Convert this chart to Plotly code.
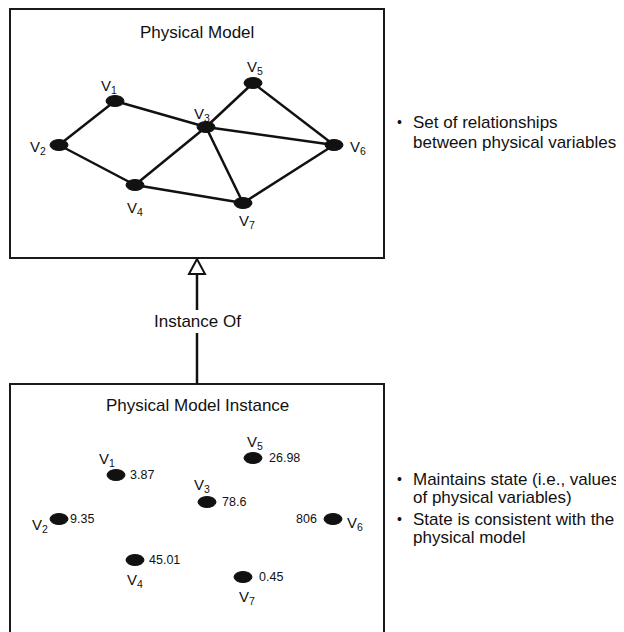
import plotly.graph_objects as go

# ---- data ----
nodes = ["V1", "V2", "V3", "V4", "V5", "V6", "V7"]
model_x = [115, 59, 206, 135, 253, 334, 243]
model_y = [101, 145, 127, 185, 83, 145, 203]
inst_x = [116, 59, 207, 135, 253, 333, 243]
inst_y = [475, 519, 502, 560, 458, 519, 577]
inst_values = ["3.87", "9.35", "78.6", "45.01", "26.98", "806", "0.45"]
edges = [("V1", "V2"), ("V1", "V3"), ("V2", "V4"), ("V3", "V4"), ("V3", "V5"),
         ("V3", "V6"), ("V3", "V7"), ("V4", "V7"), ("V5", "V6"), ("V6", "V7")]
model_title = "Physical Model"
inst_title = "Physical Model Instance"
relation_label = "Instance Of"
model_bullets = [["Set of relationships", "between physical variables"]]
inst_bullets = [["Maintains state (i.e., values", "of physical variables)"],
                ["State is consistent with the", "physical model"]]

# ---- layout / style (positions separate from data) ----
FONT = "Liberation Sans, Arial, Helvetica, sans-serif"
W, H = 624, 632
PAGE_OFF = 8  # default body margin of the page
top_box = (10, 9, 384, 258)
bot_box = (10, 384, 384, 660)
arrow_x = 197
EW, EH = 18, 11  # ellipse size

model_lbl_off = {"V1": (-6, -15), "V2": (-21, 2), "V3": (-4, -13), "V4": (0, 23),
                 "V5": (2, -16), "V6": (24, 2), "V7": (4, 18)}
inst_lbl_off = {"V1": (-9, -16), "V2": (-19, 6), "V3": (-5, -17), "V4": (0, 20),
                "V5": (2, -16), "V6": (22, 4), "V7": (4, 20)}
val_off = {"V1": (12, "left"), "V2": (9, "left"), "V3": (13, "left"), "V4": (12, "left"),
           "V5": (14, "left"), "V6": (-14, "right"), "V7": (14, "left")}

fig = go.Figure()
shapes = []
annotations = []

# boxes
for (x0, y0, x1, y1) in (top_box, bot_box):
    shapes.append(dict(type="rect", xref="x", yref="y", x0=x0, y0=y0, x1=x1, y1=y1,
                       line=dict(color="#1a1a1a", width=2), fillcolor="rgba(0,0,0,0)"))

# edges of the physical model
idx = {n: i for i, n in enumerate(nodes)}
ex, ey = [], []
for a, b in edges:
    ex += [model_x[idx[a]], model_x[idx[b]], None]
    ey += [model_y[idx[a]], model_y[idx[b]], None]
fig.add_trace(go.Scatter(x=ex, y=ey, mode="lines", line=dict(color="#111111", width=2.5),
                         hoverinfo="skip", showlegend=False))

# nodes (ellipses)
for xs, ys in ((model_x, model_y), (inst_x, inst_y)):
    for x, y in zip(xs, ys):
        shapes.append(dict(type="circle", xref="x", yref="y", x0=x - EW / 2, x1=x + EW / 2,
                           y0=y - EH / 2, y1=y + EH / 2, fillcolor="#111111",
                           line=dict(color="#111111", width=1)))

def label(n):
    return "V<sub>%s</sub>" % n[1:]

for i, n in enumerate(nodes):
    dx, dy = model_lbl_off[n]
    annotations.append(dict(x=model_x[i] + dx, y=model_y[i] + dy, text=label(n), showarrow=False,
                            font=dict(size=15, color="#111111", family=FONT)))
    dx, dy = inst_lbl_off[n]
    annotations.append(dict(x=inst_x[i] + dx, y=inst_y[i] + dy, text=label(n), showarrow=False,
                            font=dict(size=15, color="#111111", family=FONT)))
    vdx, anchor = val_off[n]
    annotations.append(dict(x=inst_x[i] + vdx, y=inst_y[i], text=inst_values[i], showarrow=False,
                            xanchor=anchor, font=dict(size=12.5, color="#111111", family=FONT)))

# titles
annotations.append(dict(x=197, y=32, text=model_title, showarrow=False,
                        font=dict(size=17, color="#111111", family=FONT)))
annotations.append(dict(x=197, y=405, text=inst_title, showarrow=False,
                        font=dict(size=17, color="#111111", family=FONT)))

# instance-of relation: line + hollow triangle
shapes.append(dict(type="line", xref="x", yref="y", x0=arrow_x, x1=arrow_x, y0=274, y1=310,
                   line=dict(color="#111111", width=2.5)))
shapes.append(dict(type="line", xref="x", yref="y", x0=arrow_x, x1=arrow_x, y0=333, y1=384,
                   line=dict(color="#111111", width=2.5)))
shapes.append(dict(type="path", xref="x", yref="y",
                   path="M %d 259 L %d 274 L %d 274 Z" % (arrow_x, arrow_x - 8, arrow_x + 8),
                   fillcolor="white", line=dict(color="#111111", width=2)))
annotations.append(dict(x=arrow_x, y=321, text=relation_label, showarrow=False,
                        font=dict(size=17, color="#111111", family=FONT)))

# bullets
def add_bullets(groups, y_start, step, gap):
    y = y_start
    for g in groups:
        annotations.append(dict(x=399, y=y, text="•", showarrow=False, xanchor="center",
                                font=dict(size=14, color="#111111", family=FONT)))
        for line in g:
            annotations.append(dict(x=411, y=y, text=line, showarrow=False, xanchor="left",
                                    font=dict(size=17, color="#111111", family=FONT)))
            y += step
        y += gap

add_bullets(model_bullets, 122, 20, 0)
add_bullets(inst_bullets, 479, 18.5, 3)

fig.update_layout(
    width=W, height=H, margin=dict(l=0, r=0, t=0, b=0),
    paper_bgcolor="white", plot_bgcolor="white",
    xaxis=dict(range=[PAGE_OFF, W + PAGE_OFF], visible=False, fixedrange=True),
    yaxis=dict(range=[H + PAGE_OFF, PAGE_OFF], visible=False, fixedrange=True),
    shapes=shapes, annotations=annotations, showlegend=False,
)
fig.write_html("out.html")
